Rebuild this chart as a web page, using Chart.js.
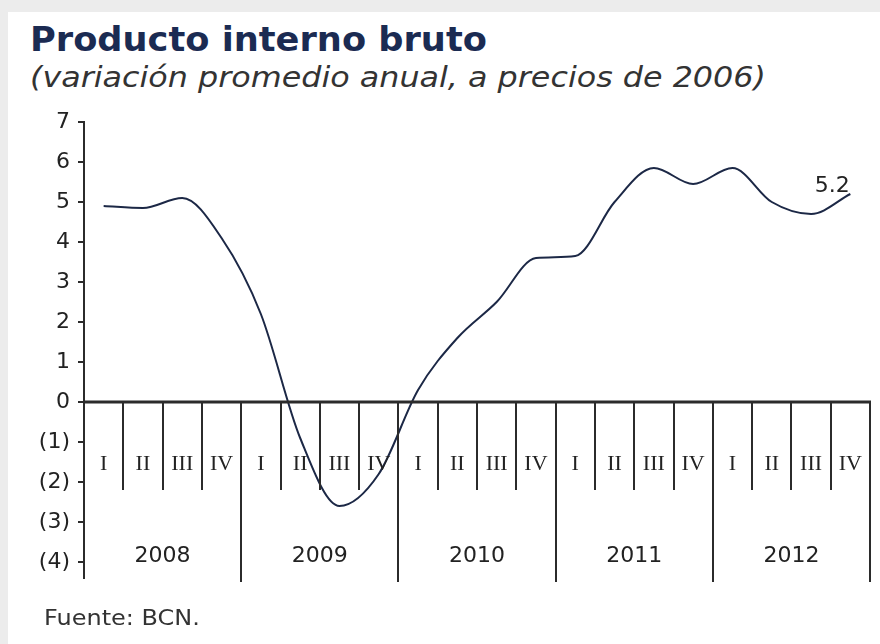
<!DOCTYPE html>
<html>
<head>
<meta charset="utf-8">
<script src="https://cdn.jsdelivr.net/npm/chart.js@4.4.0/dist/chart.umd.min.js"></script>
<style>
  html, body { margin: 0; padding: 0; }
  body { width: 880px; height: 644px; background: #ececec; position: relative; overflow: hidden; }
  #panel { position: absolute; left: 8px; top: 12px; right: 0; bottom: 0; background: #fff; }
  .txt { position: absolute; font-family: "DejaVu Sans", sans-serif; line-height: 1; white-space: nowrap; transform-origin: 0 0; }
  #titulo { left: 30px; top: 22px; font-weight: bold; font-size: 34px; color: #1b2b52; transform: scaleX(1.035); }
  #subtitulo { left: 30px; top: 64px; font-style: italic; font-size: 28px; color: #333; transform: scaleX(1.135); }
  #fuente { left: 44px; top: 607px; font-size: 22px; color: #333; transform: scaleX(1.09); }
  #grafico { position: absolute; left: 0; top: 0; }
</style>
</head>
<body>
<div id="panel"></div>
<div id="titulo" class="txt">Producto interno bruto</div>
<div id="subtitulo" class="txt">(variación promedio anual, a precios de 2006)</div>
<canvas id="grafico" width="880" height="644"></canvas>
<div id="fuente" class="txt">Fuente: BCN.</div>
<script>
// Datos del gráfico
const anios = ["2008", "2009", "2010", "2011", "2012"];
const trimestres = ["I", "II", "III", "IV"];
const pib = [4.9, 4.85, 5.1, 4.1, 2.2, -0.9, -2.6, -1.8, 0.3, 1.6, 2.5, 3.6, 3.65, 5.0, 5.85, 5.45, 5.85, 5.0, 4.7, 5.2];

const etiquetas = [];
anios.forEach(a => trimestres.forEach(t => etiquetas.push(a + " " + t)));

// Formato de números negativos entre paréntesis
function formatoTick(v) {
    return v < 0 ? "(" + Math.abs(v) + ")" : String(v);
}

// Dibuja el eje de categorías sobre la línea del cero
const ejeCategorias = {
    id: "ejeCategorias",
    afterDatasetsDraw(chart) {
        const ctx = chart.ctx;
        const x = chart.scales.x;
        const y = chart.scales.y;
        const y0 = y.getPixelForValue(0);
        const bottom = chart.chartArea.bottom + 4;
        const paso = x.getPixelForValue(1) - x.getPixelForValue(0);
        ctx.save();
        ctx.strokeStyle = "#2b2b2b";
        // separadores
        for (let i = 1; i <= etiquetas.length; i++) {
            const px = Math.round(x.getPixelForValue(i) - paso / 2);
            const esAnio = i % 4 === 0;
            ctx.lineWidth = 2;
            ctx.beginPath();
            ctx.moveTo(px, y0);
            ctx.lineTo(px, esAnio ? bottom : y.getPixelForValue(-2.2));
            ctx.stroke();
        }
        // línea del cero
        ctx.lineWidth = 3;
        ctx.beginPath();
        ctx.moveTo(chart.chartArea.left, y0);
        ctx.lineTo(chart.chartArea.right + 1, y0);
        ctx.stroke();
        // trimestres
        ctx.fillStyle = "#222";
        ctx.textAlign = "center";
        ctx.textBaseline = "middle";
        ctx.font = "22px 'Liberation Serif', serif";
        etiquetas.forEach((e, i) => {
            ctx.fillText(trimestres[i % 4], x.getPixelForValue(i), y.getPixelForValue(-1.55));
        });
        // años
        ctx.font = "22px 'DejaVu Sans', sans-serif";
        anios.forEach((a, j) => {
            const cx = (x.getPixelForValue(j * 4 + 1) + x.getPixelForValue(j * 4 + 2)) / 2;
            ctx.fillText(a, cx, y.getPixelForValue(-3.85));
        });
        // último valor
        const ult = pib.length - 1;
        ctx.fillText(String(pib[ult]), x.getPixelForValue(ult) - 18, y.getPixelForValue(pib[ult]) - 8);
        ctx.restore();
    }
};

new Chart(document.getElementById("grafico"), {
    type: "line",
    data: {
        labels: etiquetas,
        datasets: [{
            label: "PIB",
            data: pib,
            borderColor: "#1c2846",
            borderWidth: 2,
            pointRadius: 0,
            cubicInterpolationMode: "monotone",
            fill: false
        }]
    },
    options: {
        responsive: false,
        animation: false,
        devicePixelRatio: 1,
        layout: { padding: { left: 34, right: 10, top: 122, bottom: 66 } },
        plugins: {
            legend: { display: false },
            tooltip: { enabled: false }
        },
        scales: {
            x: {
                display: false,
                offset: true
            },
            y: {
                min: -4.4,
                max: 7,
                afterBuildTicks(scale) {
                    const t = [];
                    for (let v = -4; v <= 7; v++) t.push({ value: v });
                    scale.ticks = t;
                },
                afterFit(scale) { scale.width = 50; },
                grid: { drawOnChartArea: false, drawTicks: true, tickLength: 6, color: "#2b2b2b", lineWidth: 2 },
                border: { display: true, color: "#2b2b2b", width: 2 },
                ticks: {
                    callback: formatoTick,
                    color: "#222",
                    padding: 8,
                    font: { family: "'DejaVu Sans', sans-serif", size: 22 }
                }
            }
        }
    },
    plugins: [ejeCategorias]
});
</script>
</body>
</html>
